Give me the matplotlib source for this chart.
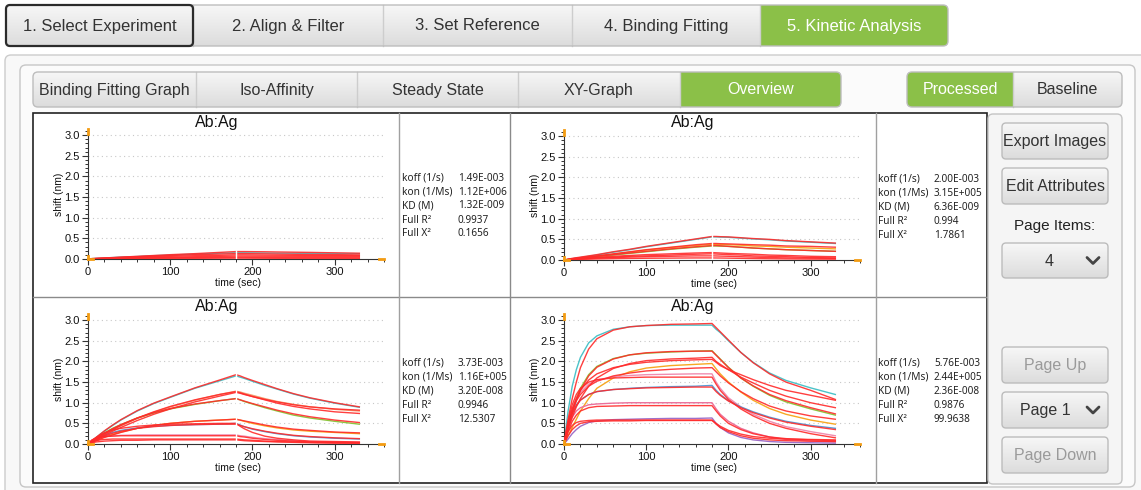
import numpy as np
import matplotlib
matplotlib.use("Agg")
from matplotlib import pyplot as plt
from matplotlib.patches import FancyBboxPatch, Rectangle
from matplotlib.colors import LinearSegmentedColormap
from matplotlib.ticker import FormatStrFormatter

plt.rcParams['font.family'] = ['Liberation Sans', 'DejaVu Sans']

# ---------------------------------------------------------------- data
T_SEC = [0, 5, 10, 15, 20, 30, 40, 60, 80, 100, 130, 160, 180,
         185, 190, 200, 215, 230, 250, 270, 300, 330]

TOP_TABS = ["1. Select Experiment", "2. Align & Filter", "3. Set Reference",
            "4. Binding Fitting", "5. Kinetic Analysis"]
SUB_TABS = ["Binding Fitting Graph", "Iso-Affinity", "Steady State", "XY-Graph", "Overview"]
VIEW_TABS = ["Processed", "Baseline"]
STAT_NAMES = ["koff (1/s)", "kon (1/Ms)", "KD (M)", "Full R\u00b2", "Full X\u00b2"]

P1_STATS = ["1.49E-003", "1.12E+006", "1.32E-009", "0.9937", "0.1656"]
P2_STATS = ["2.00E-003", "3.15E+005", "6.36E-009", "0.994", "1.7861"]
P3_STATS = ["3.73E-003", "1.16E+005", "3.20E-008", "0.9946", "12.5307"]
P4_STATS = ["5.76E-003", "2.44E+005", "2.36E-008", "0.9876", "99.9638"]

# measured traces (coloured) and fitted curves (red), one list per sensor
P1_DATA = [
    [0, 0.01, 0.015, 0.02, 0.025, 0.035, 0.045, 0.06, 0.08, 0.095, 0.12, 0.14, 0.15,
     0.15, 0.15, 0.148, 0.145, 0.142, 0.14, 0.137, 0.133, 0.13],
]
P1_COLORS = ["#4cc3c9"]
P1_FITS = [
    [0, 0.01, 0.015, 0.02, 0.025, 0.035, 0.045, 0.065, 0.085, 0.105, 0.13, 0.16, 0.18,
     0.18, 0.18, 0.178, 0.175, 0.17, 0.165, 0.16, 0.15, 0.14],
    [0, 0.008, 0.012, 0.016, 0.02, 0.03, 0.04, 0.055, 0.07, 0.085, 0.105, 0.12, 0.13,
     0.13, 0.13, 0.128, 0.125, 0.12, 0.115, 0.11, 0.105, 0.1],
    [0, 0.006, 0.01, 0.014, 0.018, 0.025, 0.032, 0.045, 0.055, 0.065, 0.08, 0.09, 0.1,
     0.1, 0.1, 0.098, 0.095, 0.093, 0.09, 0.088, 0.085, 0.08],
    [0, 0.005, 0.008, 0.011, 0.014, 0.018, 0.022, 0.03, 0.037, 0.044, 0.055, 0.065, 0.07,
     0.07, 0.07, 0.069, 0.068, 0.067, 0.066, 0.064, 0.062, 0.06],
    [0, 0.003, 0.005, 0.007, 0.009, 0.012, 0.015, 0.02, 0.024, 0.028, 0.034, 0.04, 0.042,
     0.042, 0.042, 0.041, 0.04, 0.039, 0.037, 0.035, 0.033, 0.03],
    [0, 0.002, 0.003, 0.004, 0.005, 0.007, 0.009, 0.011, 0.013, 0.015, 0.017, 0.019, 0.02,
     0.02, 0.02, 0.019, 0.018, 0.017, 0.016, 0.015, 0.013, 0.012],
]

P2_DATA = [
    [0, 0.015, 0.03, 0.045, 0.06, 0.09, 0.12, 0.19, 0.25, 0.32, 0.41, 0.5, 0.56,
     0.56, 0.555, 0.55, 0.53, 0.51, 0.49, 0.46, 0.43, 0.4],
    [0, 0.01, 0.02, 0.035, 0.045, 0.07, 0.09, 0.14, 0.19, 0.24, 0.3, 0.35, 0.38,
     0.38, 0.375, 0.37, 0.36, 0.34, 0.33, 0.31, 0.29, 0.27],
    [0, 0.01, 0.02, 0.03, 0.04, 0.06, 0.08, 0.12, 0.16, 0.2, 0.26, 0.31, 0.34,
     0.34, 0.335, 0.33, 0.31, 0.29, 0.27, 0.25, 0.23, 0.21],
]
P2_COLORS = ["#4cc3c9", "#f7a823", "#8dc63f"]
P2_FITS = [
    [0, 0.02, 0.04, 0.055, 0.07, 0.1, 0.13, 0.2, 0.26, 0.33, 0.42, 0.51, 0.57,
     0.57, 0.565, 0.56, 0.54, 0.52, 0.5, 0.47, 0.44, 0.41],
    [0, 0.015, 0.03, 0.045, 0.055, 0.08, 0.1, 0.15, 0.2, 0.25, 0.31, 0.37, 0.4,
     0.4, 0.395, 0.39, 0.38, 0.37, 0.36, 0.34, 0.33, 0.31],
    [0, 0.012, 0.025, 0.035, 0.045, 0.07, 0.09, 0.13, 0.17, 0.21, 0.27, 0.32, 0.35,
     0.35, 0.345, 0.33, 0.31, 0.29, 0.27, 0.25, 0.23, 0.21],
    [0, 0.01, 0.02, 0.03, 0.035, 0.05, 0.065, 0.09, 0.11, 0.13, 0.15, 0.17, 0.18,
     0.175, 0.17, 0.16, 0.15, 0.14, 0.12, 0.11, 0.09, 0.08],
    [0, 0.008, 0.016, 0.024, 0.03, 0.04, 0.05, 0.07, 0.09, 0.1, 0.12, 0.14, 0.15,
     0.145, 0.14, 0.13, 0.12, 0.1, 0.09, 0.08, 0.06, 0.05],
    [0, 0.006, 0.012, 0.018, 0.024, 0.034, 0.044, 0.058, 0.07, 0.08, 0.09, 0.1, 0.1,
     0.098, 0.095, 0.09, 0.08, 0.07, 0.06, 0.05, 0.045, 0.04],
    [0, 0.004, 0.008, 0.012, 0.015, 0.02, 0.025, 0.032, 0.038, 0.042, 0.046, 0.05, 0.05,
     0.049, 0.048, 0.045, 0.04, 0.035, 0.03, 0.026, 0.022, 0.02],
]

P3_DATA = [
    [0, 0.08, 0.16, 0.24, 0.31, 0.45, 0.58, 0.8, 0.98, 1.13, 1.35, 1.53, 1.65,
     1.62, 1.59, 1.52, 1.42, 1.33, 1.21, 1.11, 0.99, 0.89],
    [0, 0.06, 0.12, 0.18, 0.23, 0.34, 0.44, 0.62, 0.77, 0.9, 1.06, 1.2, 1.28,
     1.26, 1.23, 1.18, 1.1, 1.03, 0.96, 0.9, 0.84, 0.8],
    [0, 0.08, 0.15, 0.21, 0.27, 0.38, 0.47, 0.63, 0.75, 0.85, 0.96, 1.05, 1.1,
     1.07, 1.03, 0.97, 0.88, 0.8, 0.7, 0.63, 0.55, 0.48],
    [0, 0.05, 0.09, 0.13, 0.17, 0.23, 0.29, 0.38, 0.45, 0.5, 0.55, 0.58, 0.6,
     0.58, 0.55, 0.5, 0.44, 0.39, 0.34, 0.31, 0.28, 0.25],
    [0, 0.06, 0.12, 0.17, 0.21, 0.28, 0.33, 0.39, 0.43, 0.45, 0.47, 0.48, 0.5,
     0.46, 0.42, 0.36, 0.3, 0.25, 0.2, 0.17, 0.14, 0.12],
    [0, 0.1, 0.14, 0.16, 0.18, 0.2, 0.21, 0.22, 0.22, 0.22, 0.22, 0.22, 0.22,
     0.2, 0.19, 0.16, 0.13, 0.11, 0.08, 0.06, 0.05, 0.04],
]
P3_COLORS = ["#4cc3c9", "#f39a6b", "#8dc63f", "#f7a823", "#5b9bd5", "#f08cb0"]
P3_FITS = [
    [0, 0.08, 0.16, 0.24, 0.32, 0.46, 0.59, 0.81, 0.99, 1.14, 1.36, 1.55, 1.68,
     1.65, 1.61, 1.54, 1.44, 1.34, 1.22, 1.12, 1.0, 0.9],
    [0, 0.06, 0.12, 0.18, 0.24, 0.35, 0.45, 0.63, 0.78, 0.91, 1.07, 1.2, 1.27,
     1.24, 1.21, 1.15, 1.07, 0.99, 0.91, 0.85, 0.78, 0.74],
    [0, 0.05, 0.11, 0.16, 0.21, 0.31, 0.4, 0.57, 0.72, 0.85, 1.02, 1.16, 1.25,
     1.23, 1.2, 1.15, 1.08, 1.02, 0.95, 0.9, 0.85, 0.82],
    [0, 0.07, 0.14, 0.2, 0.26, 0.37, 0.47, 0.63, 0.76, 0.86, 0.97, 1.05, 1.1,
     1.07, 1.04, 0.98, 0.9, 0.82, 0.73, 0.66, 0.58, 0.52],
    [0, 0.04, 0.08, 0.12, 0.16, 0.22, 0.28, 0.38, 0.45, 0.5, 0.55, 0.58, 0.6,
     0.58, 0.56, 0.52, 0.46, 0.41, 0.36, 0.33, 0.29, 0.27],
    [0, 0.05, 0.1, 0.15, 0.19, 0.26, 0.31, 0.38, 0.42, 0.45, 0.47, 0.48, 0.48,
     0.45, 0.42, 0.37, 0.31, 0.26, 0.21, 0.18, 0.15, 0.13],
    [0, 0.09, 0.16, 0.22, 0.27, 0.34, 0.38, 0.43, 0.46, 0.48, 0.49, 0.5, 0.5,
     0.43, 0.37, 0.28, 0.19, 0.14, 0.1, 0.07, 0.06, 0.05],
    [0, 0.1, 0.14, 0.17, 0.18, 0.19, 0.2, 0.2, 0.2, 0.2, 0.2, 0.2, 0.2,
     0.18, 0.17, 0.14, 0.11, 0.09, 0.07, 0.05, 0.04, 0.03],
    [0, 0.06, 0.08, 0.1, 0.11, 0.12, 0.12, 0.12, 0.12, 0.12, 0.12, 0.12, 0.12,
     0.11, 0.1, 0.09, 0.07, 0.06, 0.05, 0.04, 0.03, 0.02],
    [0, 0.03, 0.05, 0.06, 0.07, 0.08, 0.09, 0.09, 0.1, 0.1, 0.1, 0.1, 0.1,
     0.09, 0.08, 0.07, 0.06, 0.05, 0.04, 0.03, 0.02, 0.02],
]

P4_DATA = [
    [0, 0.8, 1.4, 1.8, 2.1, 2.45, 2.62, 2.78, 2.84, 2.87, 2.88, 2.88, 2.88,
     2.78, 2.7, 2.5, 2.22, 1.98, 1.72, 1.54, 1.36, 1.2],
    [0, 0.45, 0.8, 1.1, 1.35, 1.68, 1.88, 2.07, 2.16, 2.2, 2.23, 2.25, 2.26,
     2.16, 2.06, 1.86, 1.6, 1.4, 1.18, 1.02, 0.85, 0.7],
    [0, 0.2, 0.4, 0.6, 0.8, 1.1, 1.35, 1.6, 1.75, 1.84, 1.9, 1.93, 1.95,
     1.82, 1.7, 1.5, 1.26, 1.06, 0.86, 0.72, 0.58, 0.48],
    [0, 0.5, 0.85, 1.1, 1.25, 1.45, 1.55, 1.63, 1.66, 1.68, 1.69, 1.7, 1.7,
     1.5, 1.35, 1.12, 0.9, 0.72, 0.55, 0.42, 0.3, 0.2],
    [0, 0.45, 0.75, 0.95, 1.07, 1.2, 1.27, 1.32, 1.35, 1.37, 1.39, 1.4, 1.42,
     1.3, 1.2, 1.05, 0.9, 0.78, 0.65, 0.55, 0.45, 0.38],
    [0, 0.4, 0.65, 0.8, 0.88, 0.95, 0.97, 0.99, 1.0, 1.0, 1.0, 1.0, 1.0,
     0.85, 0.72, 0.55, 0.38, 0.27, 0.17, 0.11, 0.07, 0.05],
    [0, 0.12, 0.25, 0.35, 0.43, 0.52, 0.56, 0.59, 0.6, 0.61, 0.62, 0.62, 0.63,
     0.5, 0.4, 0.27, 0.16, 0.1, 0.06, 0.04, 0.03, 0.02],
]
P4_COLORS = ["#4cc3c9", "#8dc63f", "#f7a823", "#f08cb0", "#5b9bd5", "#ec6f9a", "#a070c8"]
P4_FITS = [
    [0, 0.6, 1.1, 1.5, 1.85, 2.3, 2.55, 2.76, 2.84, 2.87, 2.9, 2.91, 2.92,
     2.82, 2.72, 2.52, 2.22, 1.97, 1.7, 1.5, 1.3, 1.08],
    [0, 0.42, 0.76, 1.05, 1.3, 1.65, 1.86, 2.06, 2.16, 2.21, 2.24, 2.25, 2.25,
     2.15, 2.05, 1.85, 1.6, 1.41, 1.2, 1.05, 0.88, 0.73],
    [0, 0.35, 0.65, 0.9, 1.1, 1.4, 1.6, 1.83, 1.95, 2.02, 2.06, 2.08, 2.1,
     2.0, 1.93, 1.8, 1.62, 1.48, 1.3, 1.16, 1.0, 0.88],
    [0, 0.5, 0.85, 1.1, 1.3, 1.55, 1.7, 1.85, 1.93, 1.98, 2.02, 2.04, 2.05,
     1.98, 1.9, 1.8, 1.68, 1.56, 1.42, 1.3, 1.18, 1.06],
    [0, 0.45, 0.8, 1.05, 1.2, 1.4, 1.52, 1.65, 1.72, 1.77, 1.81, 1.84, 1.85,
     1.75, 1.65, 1.48, 1.27, 1.1, 0.92, 0.8, 0.68, 0.6],
    [0, 0.55, 0.95, 1.2, 1.35, 1.5, 1.56, 1.6, 1.61, 1.62, 1.62, 1.62, 1.62,
     1.45, 1.3, 1.08, 0.85, 0.68, 0.5, 0.38, 0.25, 0.15],
    [0, 0.42, 0.72, 0.93, 1.06, 1.2, 1.27, 1.32, 1.34, 1.36, 1.37, 1.38, 1.38,
     1.27, 1.18, 1.04, 0.88, 0.76, 0.63, 0.53, 0.43, 0.35],
    [0, 0.3, 0.55, 0.7, 0.8, 0.88, 0.91, 0.92, 0.93, 0.93, 0.93, 0.93, 0.93,
     0.8, 0.68, 0.5, 0.35, 0.25, 0.17, 0.13, 0.1, 0.08],
    [0, 0.3, 0.45, 0.52, 0.55, 0.57, 0.58, 0.58, 0.58, 0.58, 0.58, 0.58, 0.58,
     0.48, 0.4, 0.3, 0.2, 0.14, 0.1, 0.08, 0.07, 0.06],
    [0, 0.2, 0.35, 0.44, 0.5, 0.54, 0.55, 0.56, 0.56, 0.57, 0.57, 0.57, 0.57,
     0.5, 0.43, 0.33, 0.24, 0.18, 0.14, 0.12, 0.11, 0.1],
]

# ---------------------------------------------------------------- figure / ui layer
W, H = 1141, 490
GREEN = '#8bc048'
fig = plt.figure(figsize=(W / 100, H / 100), dpi=100)
ui = fig.add_axes([0, 0, 1, 1])
ui.axis('off')


def rounded(x0, y0, x1, y1, r, fc, ec, lw=1.0, z=1):
    p = FancyBboxPatch((x0, y0), x1 - x0, y1 - y0,
                       boxstyle="round,pad=0,rounding_size=%g" % r,
                       fc=fc, ec=ec, lw=lw, zorder=z)
    ui.add_patch(p)
    return p


def gradient(x0, y0, x1, y1, clip, top='#f7f7f7', bot='#dcdcdc', z=2):
    g = np.linspace(0, 1, 64).reshape(-1, 1)
    cm = LinearSegmentedColormap.from_list('btn', [top, bot])
    im = ui.imshow(g, extent=(x0, x1, y1, y0), aspect='auto', cmap=cm,
                   zorder=z, interpolation='bilinear')
    im.set_clip_path(clip)


def button(x0, y0, x1, y1, label, color='#333333', fs=11.5, tx=None, chevron=None):
    edge = rounded(x0, y0, x1, y1, 4, 'none', '#bcbcbc', z=4)
    gradient(x0, y0, x1, y1, edge)
    cx = (x0 + x1) / 2 if tx is None else tx
    ui.text(cx, (y0 + y1) / 2 + 0.5, label, ha='center', va='center',
            fontsize=fs, color=color, zorder=5)
    if chevron is not None:
        cy = (y0 + y1) / 2
        ui.plot([chevron - 6, chevron, chevron + 6], [cy - 3, cy + 3, cy - 3],
                color='#444444', lw=2, zorder=5, solid_capstyle='round')


def tab_group(edges, y0, y1, labels, green_idx, fs=11.5):
    outline = rounded(edges[0], y0, edges[-1], y1, 5, 'none', '#bdbdbd', z=4)
    gradient(edges[0], y0, edges[-1], y1, outline)
    for i, label in enumerate(labels):
        if i == green_idx:
            g = Rectangle((edges[i], y0), edges[i + 1] - edges[i], y1 - y0,
                          fc=GREEN, ec='none', zorder=3)
            ui.add_patch(g)
            g.set_clip_path(outline)
        if 0 < i:
            ui.plot([edges[i], edges[i]], [y0, y1], color='#cdcdcd', lw=1, zorder=3)
        ui.text((edges[i] + edges[i + 1]) / 2, (y0 + y1) / 2 + 0.5, label,
                ha='center', va='center', fontsize=fs,
                color='white' if i == green_idx else '#333333', zorder=5)


# outer panels
rounded(5, 55, 1160, 520, 6, '#f8f8f8', '#cccccc', z=0.5)
rounded(20, 65, 1135, 487, 6, '#fbfbfb', '#c6c6c6', z=0.6)

# step tabs
tab_group([6, 193, 383, 572, 760, 948], 5, 46, TOP_TABS, 4, fs=12)
rounded(6, 5, 193, 46, 4, 'none', '#2b2b2b', lw=1.6, z=6)

# view tabs
tab_group([33, 196, 357, 518, 680, 841], 72, 107, SUB_TABS, 4)
tab_group([907, 1013, 1122], 72, 107, VIEW_TABS, 0)

# plot grid frame
ui.add_patch(Rectangle((33, 113), 954, 370, fc='white', ec='#222222', lw=1.2, zorder=1))
ui.plot([33, 987], [297, 297], color='#8a8a8a', lw=1, zorder=2)
ui.plot([510, 510], [113, 483], color='#8a8a8a', lw=1, zorder=2)
for sx in (399, 876):
    ui.plot([sx, sx], [113, 483], color='#a0a0a0', lw=1, zorder=2)

# side panel
rounded(988, 114, 1122, 484, 5, '#f5f5f5', '#c4c4c4', z=2)
button(1002, 123, 1108, 159, "Export Images")
button(1002, 168, 1108, 204, "Edit Attributes")
ui.text(1055, 226, "Page Items:", ha='center', va='center', fontsize=11, color='#222222', zorder=5)
button(1002, 243, 1108, 278, "4", tx=1049, chevron=1093)
button(1002, 347, 1108, 383, "Page Up", color='#9a9a9a')
button(1002, 392, 1108, 428, "Page 1", tx=1045, chevron=1093)
button(1002, 437, 1108, 473, "Page Down", color='#9a9a9a')

ui.set_xlim(0, W)
ui.set_ylim(H, 0)

# ---------------------------------------------------------------- sensorgram panels
AX_W, AX_H = 296, 130
YTOP = 3.15
STAT_FONT = ['Noto Sans', 'DejaVu Sans']


def fx(x):
    return x / W


def fy(y):
    return 1 - y / H


def panel(left, base, data, colors, fits, stats, white_gap=True):
    ax = fig.add_axes([fx(left), fy(base), AX_W / W, AX_H / H])
    ax.set_facecolor('none')
    ax.set_xlim(0, 360)
    ax.set_ylim(0, YTOP)
    for yg in [0.5, 1.0, 1.5, 2.0, 2.5, 3.0]:
        ax.axhline(yg, color='#c8c8c8', lw=0.8, ls=(0, (1, 3)), zorder=0)
    for vals, c in zip(data, colors):
        ax.plot(T_SEC, vals, color=c, lw=1.0, zorder=2)
    for vals in fits:
        ax.plot(T_SEC, vals, color='#ff2a2a', lw=1.0, alpha=0.9, zorder=3)
    if white_gap:
        ax.axvline(180, color='white', lw=1.0, zorder=4)
    ax.set_xticks([0, 100, 200, 300])
    ax.set_xticks(np.arange(0, 361, 20), minor=True)
    ax.set_yticks([0, 0.5, 1.0, 1.5, 2.0, 2.5, 3.0])
    ax.set_yticks(np.arange(0, 3.11, 0.1), minor=True)
    ax.yaxis.set_major_formatter(FormatStrFormatter('%.1f'))
    ax.tick_params(which='major', direction='out', length=4, width=0.8,
                   labelsize=8, pad=2, colors='#333333', labelcolor='#111111')
    ax.tick_params(which='minor', direction='out', length=2.5, width=0.7, colors='#333333')
    for s in ('top', 'right'):
        ax.spines[s].set_visible(False)
    for s in ('left', 'bottom'):
        ax.spines[s].set_color('#333333')
        ax.spines[s].set_linewidth(0.8)
    # orange range markers
    ax.plot([0, 0], [YTOP - 0.12, YTOP], color='#f39c12', lw=2, clip_on=False, zorder=5)
    ax.plot([0, 6], [0, 0], color='#f39c12', lw=2, clip_on=False, zorder=5)
    ax.plot([0, 0], [0, 0.08], color='#f39c12', lw=2, clip_on=False, zorder=5)
    ax.plot([354, 360], [0, 0], color='#f39c12', lw=2, clip_on=False, zorder=5)

    fig.text(fx(left + 129), fy(base - 137), "Ab:Ag", ha='center', va='center',
             fontsize=11.5, color='#111111')
    fig.text(fx(left + 150), fy(base + 24), "time (sec)", ha='center', va='center',
             fontsize=7.5, color='#111111')
    fig.text(fx(left - 29), fy(base - 65), "shift (nm)", ha='center', va='center',
             rotation=90, fontsize=7.5, color='#111111')
    sx = left + 314
    sy = base - 81
    for i, (name, val) in enumerate(zip(STAT_NAMES, stats)):
        fig.text(fx(sx), fy(sy + 14 * i), name, ha='left', va='center', fontsize=7.3,
                 family=STAT_FONT, color='#222222')
        fig.text(fx(sx + 56), fy(sy + 14 * i), val, ha='left', va='center', fontsize=7.2,
                 family=STAT_FONT, color='#222222')
    return ax


panel(88, 259, P1_DATA, P1_COLORS, P1_FITS, P1_STATS)
panel(564, 260, P2_DATA, P2_COLORS, P2_FITS, P2_STATS)
panel(88, 444, P3_DATA, P3_COLORS, P3_FITS, P3_STATS)
panel(564, 444, P4_DATA, P4_COLORS, P4_FITS, P4_STATS, white_gap=False)

fig.savefig('out.png', dpi=100)
